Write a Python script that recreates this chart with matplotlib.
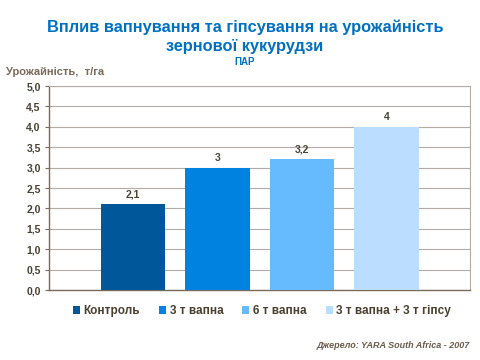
import matplotlib
matplotlib.use("Agg")
import matplotlib.pyplot as plt
from matplotlib.patches import Patch

plt.rcParams['font.family'] = ['Liberation Sans', 'DejaVu Sans']

series = ["Контроль", "3 т вапна", "6 т вапна", "3 т вапна + 3 т гіпсу"]
values = [2.1, 3.0, 3.2, 4.0]
value_labels = ["2,1", "3", "3,2", "4"]
yticks = [0.0, 0.5, 1.0, 1.5, 2.0, 2.5, 3.0, 3.5, 4.0, 4.5, 5.0]
ytick_labels = ["0,0", "0,5", "1,0", "1,5", "2,0", "2,5", "3,0", "3,5", "4,0", "4,5", "5,0"]
colors = ["#00589A", "#0083E0", "#66BBFF", "#BBDDFF"]

fig = plt.figure(figsize=(4.8, 3.6), dpi=100)
ax = fig.add_axes([49/480, 1-290/360, (470-49)/480, (290-86)/360])

pos = list(range(len(series)))
ax.bar(pos, values, width=0.76, color=colors, zorder=3)
for p, v, l in zip(pos, values, value_labels):
    ax.text(p, v + 0.12, l, ha='center', va='bottom', fontsize=7.5, fontweight='bold', color='#4a4438')

ax.set_xlim(-0.994, 3.988)
ax.set_ylim(0, 5)
ax.set_yticks(yticks)
ax.set_yticklabels(ytick_labels, fontsize=7.5, fontweight='bold', color='#4a4030')
ax.set_xticks([])
ax.grid(axis='y', color='#b4aca4', linewidth=0.8, zorder=0)
for s in ['top', 'right']:
    ax.spines[s].set_color('#b4aca4')
    ax.spines[s].set_linewidth(0.8)
for s in ['left', 'bottom']:
    ax.spines[s].set_color('#7a6a5a')
    ax.spines[s].set_linewidth(1.0)
ax.tick_params(axis='y', length=3, color='#7a6a5a', pad=3)

fig.text(245/480, 1-27/360, "Вплив вапнування та гіпсування на урожайність", ha='center', va='center',
         fontsize=11.8, fontweight='bold', color='#0070C0')
fig.text(245/480, 1-46/360, "зернової кукурудзи", ha='center', va='center',
         fontsize=11.8, fontweight='bold', color='#0070C0')
fig.text(245/480, 1-62/360, "ПАР", ha='center', va='center',
         fontsize=7, fontweight='bold', color='#0070C0')
fig.text(6/480, 1-72/360, "Урожайність,  т/га", ha='left', va='center',
         fontsize=8, fontweight='bold', color='#7a6a5a')

handles = [Patch(facecolor=c, edgecolor='none') for c in colors]
fig.legend(handles, series, loc='center', bbox_to_anchor=(262/480, 1-311/360), ncol=4,
           frameon=False, handlelength=0.6, handleheight=0.6,
           handletextpad=0.3, columnspacing=1.6, prop={'weight': 'bold', 'size': 8.5},
           labelcolor='#4a4030')

fig.text(470/480, 1-346/360, "Джерело: YARA South Africa - 2007", ha='right', va='center',
         fontsize=6.5, fontweight='bold', fontstyle='italic', color='#6a5a4a')

fig.savefig("out.png", dpi=100)
